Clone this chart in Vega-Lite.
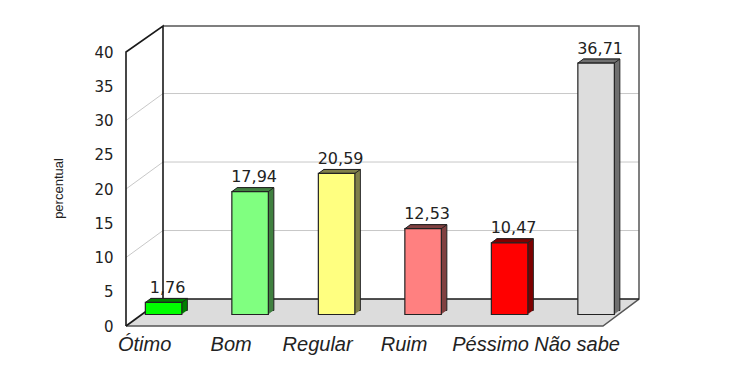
{
"$schema":"https://vega.github.io/schema/vega-lite/v6.json",
"width":513,"height":300,"autosize":"none",
"padding":{"left":126,"top":26,"right":111,"bottom":51},
"background":"white",
"config":{"view":{"stroke":null},"font":"Liberation Sans"},
"datasets":{
"pesquisa":[
{"categoria":"Ótimo","valor":1.76,"rotulo":"1,76"},
{"categoria":"Bom","valor":17.94,"rotulo":"17,94"},
{"categoria":"Regular","valor":20.59,"rotulo":"20,59"},
{"categoria":"Ruim","valor":12.53,"rotulo":"12,53"},
{"categoria":"Péssimo","valor":10.47,"rotulo":"10,47"},
{"categoria":"Não sabe","valor":36.71,"rotulo":"36,71"}],
"piso":[{"profundidade":0,"fim":477,"valor":0},{"profundidade":37,"fim":513,"valor":3.94}],
"grade":[
{"profundidade":0,"valor":10,"traco":"g10"},{"profundidade":37,"valor":13.94,"traco":"g10"},{"profundidade":513,"valor":13.94,"traco":"g10"},
{"profundidade":0,"valor":20,"traco":"g20"},{"profundidade":37,"valor":23.94,"traco":"g20"},{"profundidade":513,"valor":23.94,"traco":"g20"},
{"profundidade":0,"valor":30,"traco":"g30"},{"profundidade":37,"valor":33.94,"traco":"g30"},{"profundidade":513,"valor":33.94,"traco":"g30"}],
"fraco":[
{"profundidade":37,"valor":43.8,"traco":"a"},{"profundidade":513,"valor":43.8,"traco":"a"},{"profundidade":513,"valor":3.94,"traco":"a"},{"profundidade":477,"valor":0,"traco":"a"},{"profundidade":0,"valor":0,"traco":"a"}],
"forte":[
{"profundidade":0,"valor":0,"traco":"b"},{"profundidade":0,"valor":40,"traco":"b"},{"profundidade":37,"valor":43.8,"traco":"b"},{"profundidade":37,"valor":3.94,"traco":"b"},{"profundidade":513,"valor":3.94,"traco":"b"},
{"profundidade":0,"valor":0,"traco":"c"},{"profundidade":37,"valor":3.94,"traco":"c"}]
},
"resolve":{"scale":{"x":"independent","fill":"independent"},"axis":{"y":"independent"}},
"layer":[
{"resolve":{"axis":{"y":"independent"}},"layer":[
{"data":{"name":"piso"},"mark":{"type":"area","orient":"horizontal","fill":"#dcdcdc"},
 "encoding":{"x":{"field":"profundidade","type":"quantitative","scale":{"domain":[0,513],"nice":false},"axis":null},"x2":{"field":"fim"},
 "y":{"field":"valor","type":"quantitative","scale":{"domain":[0,43.8],"nice":false},
  "axis":{"title":"percentual","values":[0,5,10,15,20,25,30,35,40],"grid":false,"domain":false,"ticks":false,"labelOverlap":false,"labelPadding":13,"labelFont":"DejaVu Sans","labelFontSize":15,"labelColor":"#222","titleFont":"Liberation Sans","titleFontWeight":"normal","titleFontSize":13,"titleColor":"#222","titleX":-61,"titleY":162}}}},
{"data":{"name":"grade"},"mark":{"type":"line","stroke":"#c8c8c8","strokeWidth":1},
 "encoding":{"x":{"field":"profundidade","type":"quantitative"},"y":{"field":"valor","type":"quantitative","axis":null},"detail":{"field":"traco"},"order":{"value":null}}},
{"data":{"name":"fraco"},"mark":{"type":"line","stroke":"#555555","strokeWidth":1.5},
 "encoding":{"x":{"field":"profundidade","type":"quantitative"},"y":{"field":"valor","type":"quantitative","axis":null},"detail":{"field":"traco"},"order":{"value":null}}},
{"data":{"name":"forte"},"mark":{"type":"line","stroke":"#1a1a1a","strokeWidth":1.6},
 "encoding":{"x":{"field":"profundidade","type":"quantitative"},"y":{"field":"valor","type":"quantitative","axis":null},"detail":{"field":"traco"},"order":{"value":null}}}
]},
{"data":{"name":"pesquisa"},
 "encoding":{
  "x":{"field":"categoria","type":"nominal","sort":null,"scale":{"type":"band","paddingInner":0,"paddingOuter":0,"range":[-5.65,513.35]},"axis":null},
  "y":{"field":"valor","type":"quantitative","axis":null},
  "fill":{"field":"categoria","type":"nominal","sort":null,"legend":null,"scale":{"domain":["Ótimo","Bom","Regular","Ruim","Péssimo","Não sabe"],"range":["#007f00","#408040","#80804a","#804040","#7f0000","#707070"]}}},
 "layer":[
  {"mark":{"type":"bar","width":36.5,"stroke":"#222","strokeWidth":1,"xOffset":5.5,"yOffset":-15.5,"y2Offset":-15.5},"encoding":{"y2":{"datum":0}}},
  {"mark":{"type":"bar","width":36.5,"xOffset":4.5,"yOffset":-14.8,"y2Offset":-14.8},"encoding":{"y2":{"datum":0}}},
  {"mark":{"type":"bar","width":36.5,"xOffset":3.5,"yOffset":-14,"y2Offset":-14},"encoding":{"y2":{"datum":0}}},
  {"mark":{"type":"bar","width":36.5,"xOffset":2.5,"yOffset":-13.3,"y2Offset":-13.3},"encoding":{"y2":{"datum":0}}},
  {"mark":{"type":"bar","width":36.5,"xOffset":1.5,"yOffset":-12.6,"y2Offset":-12.6},"encoding":{"y2":{"datum":0}}},
  {"mark":{"type":"point","filled":true,"size":4,"opacity":1,"strokeWidth":1,"stroke":"#222","yOffset":-11.5,"shape":"M-18.25 0 L18.25 0 L23.75 -4 L-12.75 -4 Z"}}
 ]},
{"data":{"name":"pesquisa"},
 "encoding":{
  "x":{"field":"categoria","type":"nominal","sort":null,"title":null,"scale":{"type":"band","paddingInner":0,"paddingOuter":0,"range":[-5.65,513.35]},
   "axis":{"orient":"bottom","domain":false,"ticks":false,"labelAngle":0,"labelOffset":-19,"labelPadding":8,"labelFont":"Liberation Sans","labelFontStyle":"italic","labelFontSize":20,"labelColor":"#222","labelOverlap":false,"labelBound":false,"labelFlush":false,"labelLimit":0}},
  "y":{"field":"valor","type":"quantitative","axis":null}},
 "layer":[
  {"mark":{"type":"bar","width":36.5,"stroke":"#222","strokeWidth":1.2,"yOffset":-11.5,"y2Offset":-11.5},
   "encoding":{"y2":{"datum":0},"fill":{"field":"categoria","type":"nominal","sort":null,"legend":null,"scale":{"domain":["Ótimo","Bom","Regular","Ruim","Péssimo","Não sabe"],"range":["#00ff00","#80ff80","#ffff80","#ff8080","#ff0000","#dddddd"]}}}},
  {"mark":{"type":"text","align":"center","baseline":"alphabetic","dx":4,"dy":-21,"font":"DejaVu Sans","fontSize":16,"fill":"#222"},
   "encoding":{"text":{"field":"rotulo"}}}
 ]}
]}
